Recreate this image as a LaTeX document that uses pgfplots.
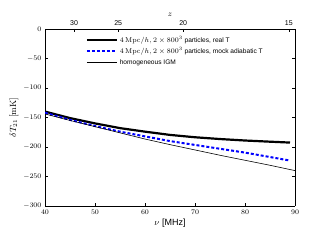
\documentclass[border=0pt]{standalone}
\usepackage[no-math]{fontspec}
\setmainfont{Liberation Sans}
\usepackage{pgfplots}
\pgfplotsset{compat=1.18}
\begin{document}
\begin{tikzpicture}
\path[use as bounding box] (-45pt,-34pt) rectangle (275pt,206pt);
\begin{axis}[
  scale only axis, width=250pt, height=177pt,
  xmin=40, xmax=90, ymin=-300, ymax=0,
  xtick={40,50,60,70,80,90},
  ytick={-300,-250,-200,-150,-100,-50,0},
  axis x line*=bottom,
  tick align=inside,
  tick style={black, line width=0.4pt},
  major tick length=3pt,
  ticklabel style={font=\fontsize{7}{8}\selectfont},
  xlabel={$\nu$ [MHz]},
  ylabel={$\delta T_{21}\,[\mathrm{mK}]$},
  label style={font=\fontsize{9}{10}\selectfont},
  xlabel style={yshift=2pt},
  ylabel style={yshift=-2pt},
  legend cell align=left,
  legend style={draw=none, fill=none, at={(0.15,0.985)}, anchor=north west,
    font=\fontsize{6.6}{7.5}\selectfont, row sep=0pt},
  legend image code/.code={\draw[#1] plot coordinates {(0cm,0cm) (1.05cm,0cm)};},
]
\addplot[black, line width=2.2pt] coordinates {
(40,-140) (45,-151) (50,-160) (55,-168) (60,-174) (65,-179.5) (70,-183.5) (75,-186.5) (80,-189) (85,-191) (89,-192.5)};
\addlegendentry{$4\,\mathrm{Mpc}/h, 2\times 800^3$ particles, real T}
\addplot[blue, line width=2pt, dash pattern=on 3pt off 2pt] coordinates {
(40,-142) (45,-154) (50,-164.5) (55,-174) (60,-182) (65,-190) (70,-196.5) (75,-203) (80,-209.5) (85,-217) (89,-223)};
\addlegendentry{$4\,\mathrm{Mpc}/h, 2\times 800^3$ particles, mock adiabatic T}
\addplot[black, line width=0.6pt] coordinates {
(40,-144) (45,-155) (50,-165.5) (55,-176) (60,-186.5) (65,-196) (70,-205) (75,-214) (80,-222.5) (85,-231) (90,-240)};
\addlegendentry{homogeneous IGM}
\end{axis}
\begin{axis}[
  scale only axis, width=250pt, height=177pt,
  xmin=40, xmax=90, ymin=-300, ymax=0,
  axis x line*=top, axis y line=none,
  tick align=inside,
  tick style={black, line width=0.4pt},
  major tick length=3pt,
  xtick={45.819,54.631,67.638,88.775},
  xticklabels={30,25,20,15},
  ticklabel style={font=\fontsize{7}{8}\selectfont},
  xlabel={$z$},
  label style={font=\fontsize{8}{9}\selectfont},
  xlabel style={yshift=-3pt},
]
\end{axis}
\end{tikzpicture}
\end{document}
